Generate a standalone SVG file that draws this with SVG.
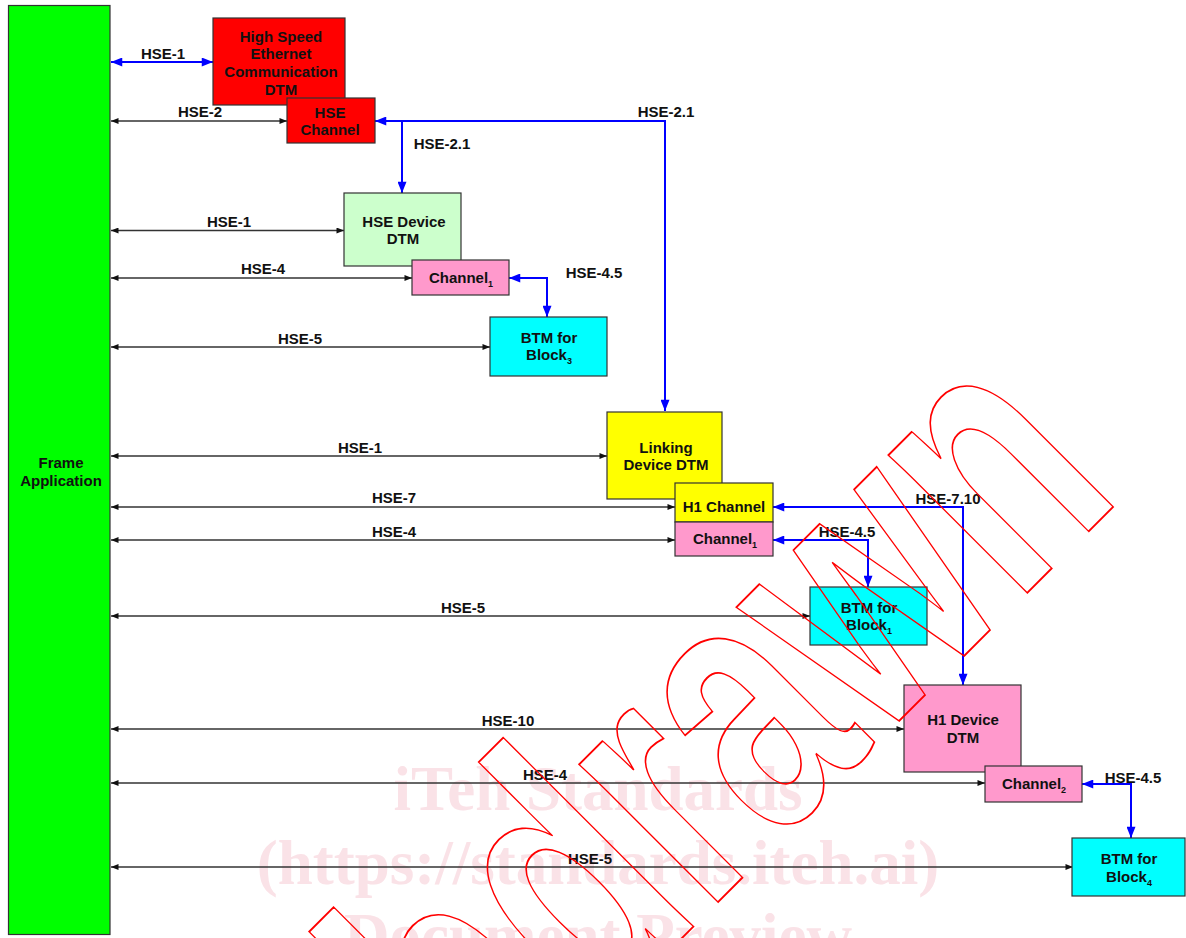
<svg xmlns="http://www.w3.org/2000/svg" width="1186" height="938" viewBox="0 0 1186 938">
<style>
.box{stroke:#333;stroke-width:1.2}
.t{font-family:"Liberation Sans",Arial,sans-serif;font-weight:bold;font-size:15px;fill:#111;text-anchor:middle}
.lbl{font-family:"Liberation Sans",Arial,sans-serif;font-weight:bold;font-size:15px;fill:#111;text-anchor:middle}
.blk{stroke:#333;stroke-width:1.3;fill:none;marker-start:url(#ak);marker-end:url(#ak)}
.blu{stroke:#0000FF;stroke-width:2;fill:none}
.wm{font-family:"Liberation Serif","Times New Roman",serif;font-weight:bold;font-size:63px;fill:#FAE2E7;text-anchor:middle}
</style>
<defs>
<marker id="ak" viewBox="0 0 10 8" refX="10" refY="4" markerWidth="9" markerHeight="6" markerUnits="userSpaceOnUse" orient="auto-start-reverse"><path d="M0,0 L10,4 L0,8 z" fill="#111"/></marker>
<marker id="ab" viewBox="0 0 10 8" refX="10" refY="4" markerWidth="13" markerHeight="9" markerUnits="userSpaceOnUse" orient="auto-start-reverse"><path d="M0,0 L10,4 L0,8 z" fill="#0000FF"/></marker>
</defs>
<rect width="1186" height="938" fill="#fff"/>
<g id="watermark-text">
<text class="wm" x="598" y="810">iTeh Standards</text>
<text class="wm" x="598" y="884">(https://standards.iteh.ai)</text>
<text class="wm" x="598" y="957">Document Preview</text>
</g>
<g id="frame"><rect class="box" x="8.5" y="5.5" width="101.5" height="929" fill="#00FF00"/>
<text class="t" x="61" y="468">Frame</text><text class="t" x="61" y="486">Application</text></g>
<g id="connectors">
<path class="blu" d="M111,62 H213" marker-start="url(#ab)" marker-end="url(#ab)"/>
<path class="blk" d="M111,121 H287"/>
<path class="blk" d="M111,230.5 H344"/>
<path class="blk" d="M111,278 H412"/>
<path class="blk" d="M111,347 H490"/>
<path class="blk" d="M111,456 H607"/>
<path class="blk" d="M111,507 H675"/>
<path class="blk" d="M111,540 H675"/>
<path class="blk" d="M111,616 H810"/>
<path class="blk" d="M111,729 H904"/>
<path class="blk" d="M111,783 H985"/>
<path class="blk" d="M111,867 H1073"/>
<path class="blu" d="M665,411 V121 H375" marker-start="url(#ab)" marker-end="url(#ab)"/>
<path class="blu" d="M402,121 V193" marker-end="url(#ab)"/>
<path class="blu" d="M509,278 H547 V317" marker-start="url(#ab)" marker-end="url(#ab)"/>
<path class="blu" d="M773,507 H963 V685" marker-start="url(#ab)" marker-end="url(#ab)"/>
<path class="blu" d="M773,540 H868 V587" marker-start="url(#ab)" marker-end="url(#ab)"/>
<path class="blu" d="M1082,784 H1131 V838" marker-start="url(#ab)" marker-end="url(#ab)"/>
<text class="lbl" x="163" y="59">HSE-1</text>
<text class="lbl" x="200" y="117">HSE-2</text>
<text class="lbl" x="229" y="227">HSE-1</text>
<text class="lbl" x="263" y="274">HSE-4</text>
<text class="lbl" x="300" y="344">HSE-5</text>
<text class="lbl" x="360" y="453">HSE-1</text>
<text class="lbl" x="394" y="503">HSE-7</text>
<text class="lbl" x="394" y="537">HSE-4</text>
<text class="lbl" x="463" y="613">HSE-5</text>
<text class="lbl" x="508" y="726">HSE-10</text>
<text class="lbl" x="545" y="780">HSE-4</text>
<text class="lbl" x="590" y="864">HSE-5</text>
<text class="lbl" x="442" y="149">HSE-2.1</text>
<text class="lbl" x="666" y="117">HSE-2.1</text>
<text class="lbl" x="594" y="278">HSE-4.5</text>
<text class="lbl" x="847" y="537">HSE-4.5</text>
<text class="lbl" x="948" y="504">HSE-7.10</text>
<text class="lbl" x="1133" y="783">HSE-4.5</text>
</g>
<g id="hse-comm-dtm"><rect class="box" x="213" y="18" width="132" height="87" fill="#FF0000"/>
<text class="t" x="281" y="42">High Speed</text><text class="t" x="281" y="59">Ethernet</text><text class="t" x="281" y="77">Communication</text><text class="t" x="281" y="95">DTM</text></g>
<g id="hse-channel"><rect class="box" x="287" y="98" width="88" height="45" fill="#FF0000"/>
<text class="t" x="330" y="118">HSE</text><text class="t" x="330" y="135">Channel</text></g>
<g id="hse-device-dtm"><rect class="box" x="344" y="193" width="117" height="73" fill="#CCFFCC"/>
<text class="t" x="404" y="227">HSE Device</text><text class="t" x="403" y="244">DTM</text></g>
<g id="channel1-a"><rect class="box" x="412" y="260" width="97" height="35" fill="#FF99CC"/>
<text class="t" x="461" y="283">Channel<tspan font-size="9" dy="4">1</tspan></text></g>
<g id="btm-block3"><rect class="box" x="490" y="317" width="117" height="59" fill="#00FFFF"/>
<text class="t" x="549" y="343">BTM for</text><text class="t" x="549" y="360">Block<tspan font-size="9" dy="4">3</tspan></text></g>
<g id="linking-device-dtm"><rect class="box" x="607" y="412" width="115" height="87" fill="#FFFF00"/>
<text class="t" x="666" y="453">Linking</text><text class="t" x="666" y="470">Device DTM</text></g>
<g id="h1-channel"><rect class="box" x="675" y="483" width="98" height="39" fill="#FFFF00"/>
<text class="t" x="724" y="512">H1 Channel</text></g>
<g id="channel1-b"><rect class="box" x="675" y="522" width="98" height="34" fill="#FF99CC"/>
<text class="t" x="725" y="544">Channel<tspan font-size="9" dy="4">1</tspan></text></g>
<g id="btm-block1"><rect class="box" x="810" y="587" width="117" height="58" fill="#00FFFF"/>
<text class="t" x="869" y="613">BTM for</text><text class="t" x="869" y="630">Block<tspan font-size="9" dy="4">1</tspan></text></g>
<g id="h1-device-dtm"><rect class="box" x="904" y="685" width="117" height="87" fill="#FF99CC"/>
<text class="t" x="963" y="725">H1 Device</text><text class="t" x="963" y="743">DTM</text></g>
<g id="channel2"><rect class="box" x="985" y="766" width="97" height="36" fill="#FF99CC"/>
<text class="t" x="1034" y="789">Channel<tspan font-size="9" dy="4">2</tspan></text></g>
<g id="btm-block4"><rect class="box" x="1072" y="838" width="113" height="58" fill="#00FFFF"/>
<text class="t" x="1129" y="864">BTM for</text><text class="t" x="1129" y="882">Block<tspan font-size="9" dy="4">4</tspan></text></g>
<g id="watermark-withdrawn" transform="translate(1124.3,495.7) rotate(-45) scale(0.686,1)">
<text x="0" y="0" text-anchor="end" font-family="Liberation Sans,Arial,sans-serif" font-weight="bold" font-size="370" fill="none" stroke="#FF0000" stroke-width="1.6" vector-effect="non-scaling-stroke">Withdrawn</text>
</g>
</svg>
